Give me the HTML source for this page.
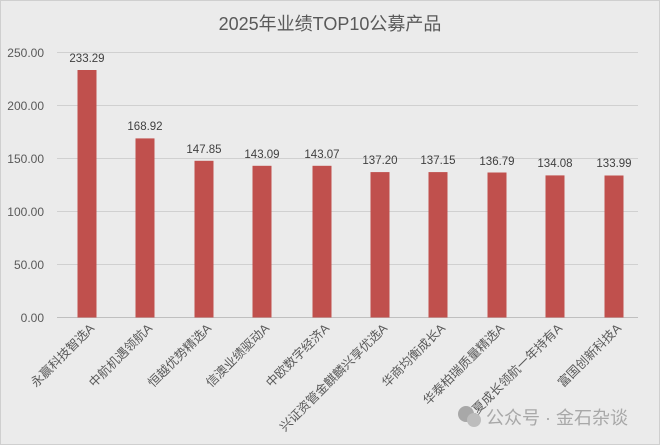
<!DOCTYPE html>
<html><head><meta charset="utf-8"><style>
body{margin:0;background:#fff}
svg{display:block}
text{font-family:"Liberation Sans","Noto Sans CJK SC",sans-serif}
.ax{font-size:12px;fill:#595959}
.v{font-size:11.5px;fill:#404040}
.xl{font-family:"Noto Serif CJK SC","Liberation Serif",serif;font-size:12.5px;fill:#595959}
</style></head><body>
<svg width="660" height="445" viewBox="0 0 660 445">
<rect x="0.5" y="0.5" width="659" height="444" fill="#ebebeb" stroke="#cfcfcf"/>
<text x="330" y="30" text-anchor="middle" font-size="18" fill="#595959">2025年业绩TOP10公募产品</text>
<g stroke="#d0d0d0" stroke-width="1">
<line x1="57" x2="638" y1="52.5" y2="52.5"/><line x1="57" x2="638" y1="105.5" y2="105.5"/>
<line x1="57" x2="638" y1="158.5" y2="158.5"/><line x1="57" x2="638" y1="211.5" y2="211.5"/>
<line x1="57" x2="638" y1="264.5" y2="264.5"/><line x1="57" x2="638" y1="317.5" y2="317.5" stroke="#bfbfbf"/>
</g>
<g class="ax" text-anchor="end">
<text x="44" y="57">250.00</text><text x="44" y="110">200.00</text><text x="44" y="163">150.00</text>
<text x="44" y="216">100.00</text><text x="44" y="269">50.00</text><text x="44" y="322">0.00</text>
</g>
<g fill="#c0504d">
<rect x="77.5" y="70" width="19" height="247.5"/>
<rect x="135.5" y="138.4" width="19" height="179.1"/>
<rect x="194.5" y="160.8" width="19" height="156.7"/>
<rect x="252.5" y="165.8" width="19" height="151.7"/>
<rect x="312.5" y="165.8" width="19" height="151.7"/>
<rect x="370.5" y="172.1" width="19" height="145.4"/>
<rect x="428.5" y="172.1" width="19" height="145.4"/>
<rect x="487.5" y="172.5" width="19" height="145"/>
<rect x="545.5" y="175.4" width="19" height="142.1"/>
<rect x="604.5" y="175.5" width="19" height="142"/>
</g>
<g class="v" text-anchor="middle">
<text x="87" y="62">233.29</text><text x="145" y="130">168.92</text><text x="204" y="153">147.85</text>
<text x="262" y="158">143.09</text><text x="322" y="158">143.07</text><text x="380" y="164">137.20</text>
<text x="438" y="164">137.15</text><text x="497" y="165">136.79</text><text x="555" y="167">134.08</text>
<text x="614" y="167">133.99</text>
</g>
<g class="xl" text-anchor="end">
<text transform="translate(95,329) rotate(-45)">永赢科技智选A</text>
<text transform="translate(153,329) rotate(-45)">中航机遇领航A</text>
<text transform="translate(212,329) rotate(-45)">恒越优势精选A</text>
<text transform="translate(270,329) rotate(-45)">信澳业绩驱动A</text>
<text transform="translate(330,329) rotate(-45)">中欧数字经济A</text>
<text transform="translate(388,329) rotate(-45)">兴证资管金麒麟兴享优选A</text>
<text transform="translate(446,329) rotate(-45)">华商均衡成长A</text>
<text transform="translate(505,329) rotate(-45)">华泰柏瑞质量精选A</text>
<text transform="translate(563,329) rotate(-45)">华夏成长领航一年持有A</text>
<text transform="translate(622,329) rotate(-45)">富国创新科技A</text>
</g>
<circle cx="466" cy="414" r="8" fill="#a8a8a8"/>
<circle cx="474" cy="420" r="7" fill="#bdbdbd"/>
<text x="486" y="424" font-size="18" fill="#a8a8a8">公众号 · 金石杂谈</text>
</svg>
</body></html>
